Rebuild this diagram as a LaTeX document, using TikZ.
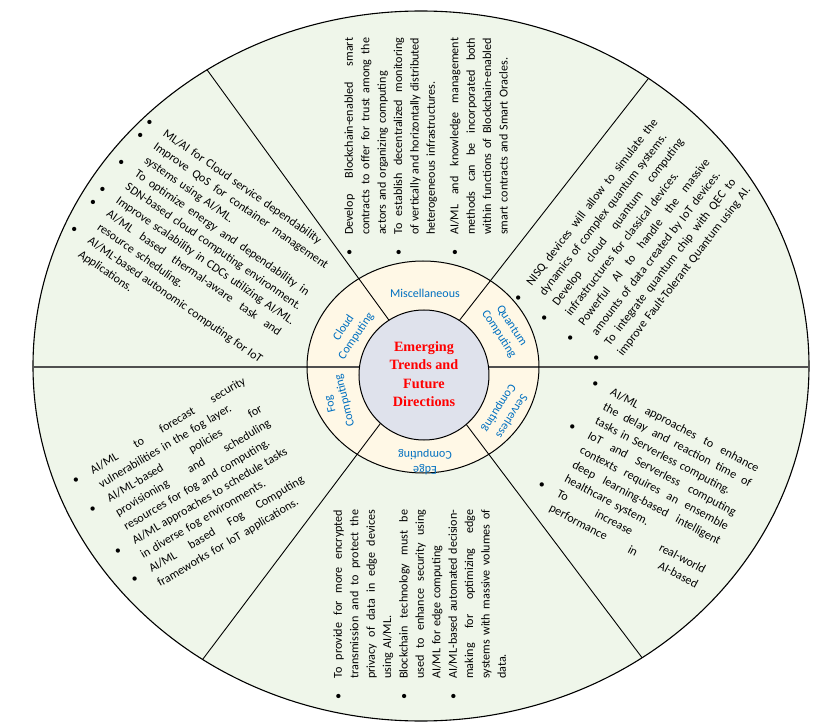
\documentclass[tikz,border=0pt]{standalone}
\usepackage{fontspec}
\setmainfont{Carlito}
\newfontfamily\titlefont{Liberation Serif}
\usepackage{tikz}
\usetikzlibrary{positioning}
\definecolor{wheelOuter}{HTML}{EFF6EA}
\definecolor{wheelRing}{HTML}{FFF8E6}
\definecolor{wheelCore}{HTML}{DFE2EC}
\definecolor{ringBlue}{HTML}{0070C0}
\definecolor{coreRed}{HTML}{FF0000}
\definecolor{splitGray}{HTML}{505050}

\newlength{\blkw}
\newlength{\bulw}
\setlength{\bulw}{21pt}
% bullet line / continuation line, justified or not
\newcommand{\stretchline}[1]{\makebox[\blkw][s]{\spaceskip=0pt\xspaceskip=0pt #1}}
\newcommand{\itemj}[1]{\makebox[\bulw][l]{\textbullet}\stretchline{#1}}
\newcommand{\iteml}[1]{\makebox[\bulw][l]{\textbullet}#1}
\newcommand{\contj}[1]{\hspace*{\bulw}\stretchline{#1}}
\newcommand{\contl}[1]{\hspace*{\bulw}#1}
\newcommand{\txtsize}{\fontsize{12.1pt}{16.4pt}\selectfont}

\tikzset{
  blk/.style={anchor=base west, inner sep=0pt, align=left, text width=250pt,
    font=\txtsize, execute at begin node={\setlength{\blkw}{#1}}},
  ringlbl/.style={align=center, inner sep=0pt, text=ringBlue,
    font=\fontsize{12pt}{15pt}\selectfont},
  split/.style={line width=0.9pt}
}

\begin{document}
\begin{tikzpicture}[x=1pt,y=1pt]
  \useasboundingbox (-423,-359) rectangle (408,367);
  % wheel
  \draw[line width=1.1pt, fill=wheelOuter] (-2,1) ellipse [x radius=388, y radius=355];
  \fill[wheelRing] (0,0) ellipse [x radius=116, y radius=106];
  \begin{scope}
    \clip (-2,1) ellipse [x radius=388, y radius=355];
    \foreach \ang in {52,126,233,307}
      \draw[split] (0,0) -- (\ang:700);
    \draw[line width=1.4pt, splitGray] (-500,0) -- (500,0);
  \end{scope}
  \draw[line width=1pt] (0,0) ellipse [x radius=116, y radius=106];
  \draw[line width=1pt, fill=wheelCore] (1,-8) circle (65);
  % centre
  \node[font=\titlefont\bfseries\fontsize{14.2pt}{18.3pt}\selectfont, text=coreRed, align=center]
    (core) at (1,-7) {Emerging\\Trends and\\Future\\Directions};
  % ring labels
  \node[ringlbl] (misc) at (2,74) {Miscellaneous};
  \node[ringlbl, rotate=56] (cloud) at (-73,35) {Cloud\\Computing};
  \node[ringlbl, rotate=-57] (quantum) at (82,37) {Quantum\\Computing};
  \node[ringlbl, rotate=238] (serverless) at (82,-45) {Serverless\\Computing};
  \node[ringlbl, rotate=180] (edge) at (2,-95) {Edge\\Computing};
  \node[ringlbl, rotate=104] (fog) at (-85,-35) {Fog\\Computing};
  % miscellaneous
  \node[blk=197pt, rotate=90] (miscText) at (-70,111) {%
    \itemj{Develop Blockchain-enabled smart}\\
    \contj{contracts to offer for trust among the}\\
    \contl{actors and organizing computing}\\
    \itemj{To establish decentralized monitoring}\\
    \contj{of vertically and horizontally distributed}\\
    \contl{heterogeneous infrastructures.}\\[7pt]
    \itemj{AI/ML and knowledge management}\\
    \contj{methods can be incorporated both}\\
    \contj{within functions of Blockchain-enabled}\\
    \contl{smart contracts and Smart Oracles.}};
  % cloud
  \node[blk=210pt, rotate=-35] (cloudText) at (-278,244) {%
    \iteml{ML/AI for Cloud service dependability}\\
    \itemj{Improve QoS for container management}\\
    \contl{systems using AI/ML.}\\
    \itemj{To optimize energy and dependability in}\\
    \contl{SDN-based cloud computing environment.}\\
    \iteml{Improve scalability in CDCs utilizing AI/ML.}\\
    \itemj{AI/ML based thermal-aware task and}\\
    \contl{resource scheduling.}\\
    \itemj{AI/ML-based autonomic computing for IoT}\\
    \contl{Applications.}};
  % quantum
  \node[blk=207pt, rotate=52.4] (quantumText) at (96,64) {%
    \itemj{NISQ devices will allow to simulate the}\\
    \contl{dynamics of complex quantum systems.}\\
    \itemj{Develop cloud quantum computing}\\
    \contl{infrastructures for classical devices.}\\
    \itemj{Powerful AI to handle the massive}\\
    \contl{amounts of data created by IoT devices.}\\
    \itemj{To integrate quantum chip with QEC to}\\
    \contl{improve Fault-Tolerant Quantum using AI.}};
  % fog
  \node[blk=178pt, rotate=30.7] (fogText) at (-348,-118) {%
    \itemj{AI/ML to forecast security}\\
    \contl{vulnerabilities in the fog layer.}\\
    \itemj{AI/ML-based policies for}\\
    \contj{provisioning and scheduling}\\
    \contl{resources for fog and computing.}\\
    \itemj{AI/ML approaches to schedule tasks}\\
    \contl{in diverse fog environments.}\\
    \itemj{AI/ML based Fog Computing}\\
    \contl{frameworks for IoT applications.}};
  % edge
  \node[blk=169pt, rotate=90] (edgeText) at (-81,-333) {%
    \itemj{To provide for more encrypted}\\
    \contj{transmission and to protect the}\\
    \contj{privacy of data in edge devices}\\
    \contl{using AI/ML.}\\
    \itemj{Blockchain technology must be}\\
    \contj{used to enhance security using}\\
    \contl{AI/ML for edge computing}\\
    \itemj{AI/ML-based automated decision-}\\
    \contj{making for optimizing edge}\\
    \contj{systems with massive volumes of}\\
    \contl{data.}};
  % serverless
  \node[blk=166pt, rotate=-27.8] (serverlessText) at (168,-18) {%
    \itemj{AI/ML approaches to enhance}\\
    \contj{the delay and reaction time of}\\
    \contl{tasks in Serverless computing.}\\
    \itemj{IoT and Serverless computing}\\
    \contj{contexts requires an ensemble}\\
    \contj{deep learning-based intelligent}\\
    \contl{healthcare system.}\\
    \itemj{To increase real-world}\\
    \contj{performance in AI-based}};
\end{tikzpicture}
\end{document}
